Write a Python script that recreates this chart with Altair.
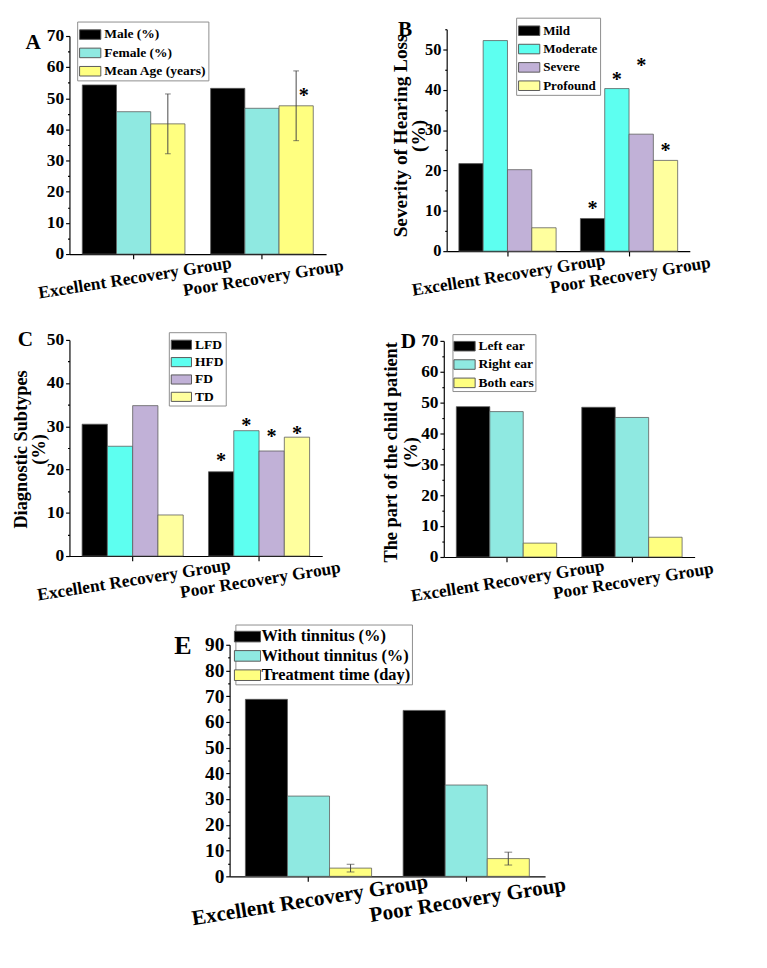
import altair as alt
import pandas as pd

FONT = "Liberation Serif"
GROUPS = ["Excellent Recovery Group", "Poor Recovery Group"]

# ---- Panel A: sex and age ----
a_series = ["Male (%)", "Female (%)", "Mean Age (years)"]
a_colors = ["#000000", "#8fe9e1", "#ffff80"]
a_excellent = [54.3, 45.7, 41.8]
a_poor = [53.2, 46.8, 47.6]
a_age_sd = [9.6, 11.2]
a_star_series = ["Mean Age (years)"]
a_star_y = [51.7]

# ---- Panel B: severity of hearing loss ----
b_series = ["Mild", "Moderate", "Severe", "Profound"]
b_colors = ["#000000", "#5dfff0", "#c1b1d7", "#ffff9e"]
b_excellent = [21.7, 52.2, 20.2, 5.8]
b_poor = [8.1, 40.3, 29.0, 22.5]
b_star_series = ["Mild", "Moderate", "Severe", "Profound"]
b_star_y = [11.1, 43.0, 46.6, 25.5]

# ---- Panel C: diagnostic subtypes ----
c_series = ["LFD", "HFD", "FD", "TD"]
c_colors = ["#000000", "#5dfff0", "#c1b1d7", "#ffff9e"]
c_excellent = [30.5, 25.4, 34.8, 9.5]
c_poor = [19.5, 29.0, 24.3, 27.5]
c_star_series = ["LFD", "HFD", "FD", "TD"]
c_star_y = [22.5, 30.7, 28.1, 28.8]

# ---- Panel D: affected ear ----
d_series = ["Left ear", "Right ear", "Both ears"]
d_colors = ["#000000", "#8fe9e1", "#ffff80"]
d_excellent = [48.7, 47.1, 4.5]
d_poor = [48.5, 45.2, 6.4]

# ---- Panel E: tinnitus and treatment time ----
e_series = ["With tinnitus (%)", "Without tinnitus (%)", "Treatment time (day)"]
e_colors = ["#000000", "#8fe9e1", "#ffff80"]
e_excellent = [68.8, 31.2, 3.2]
e_poor = [64.5, 35.5, 6.9]
e_time_sd = [1.5, 2.5]

INDEPENDENT = dict(x="independent", y="independent", xOffset="independent", color="independent")
SWATCH = "M-1,-0.45H1V0.45H-1Z"
WIDE_SWATCH = "M-1.23,-0.5H1.23V0.5H-1.23Z"


def bar_table(series, excellent, poor):
    rows = []
    for g, vals in zip(GROUPS, [excellent, poor]):
        for s, v in zip(series, vals):
            rows.append({"group": g, "series": s, "value": v})
    return pd.DataFrame(rows)


def panel(series, colors, excellent, poor, ymax, width, height, x_range, y_range,
          letter, letter_x, letter_y, letter_size,
          legend_x, legend_y, legend_fs, legend_row_pad, legend_pad, legend_sym,
          swatch=SWATCH, y_offset=0, tick_fs=18, xlab_fs=18, xlab_pad=11,
          ytitle=None, ytitle_x=0, ytitle_y=0, ytitle_fs=19, ytitle_lh=19,
          star_series=None, star_y=None, star_dx=0,
          err_series=None, err_mean=None, err_sd=None, cap=6):
    df = bar_table(series, excellent, poor)

    # the panel letter rides on the x axis as its title, placed top-left of the panel
    x_axis = alt.Axis(
        title=letter, titleX=letter_x, titleY=letter_y, titleAngle=0,
        titleAlign="left", titleBaseline="alphabetic", titleFontSize=letter_size,
        labelAngle=351, labelAlign="center", labelBaseline="top",
        labelPadding=xlab_pad, labelFontSize=xlab_fs, labelLimit=500,
        labelOverlap=False, tickSize=5, domainWidth=1.2, tickWidth=1.2,
    )
    x_scale = alt.Scale(domain=GROUPS, paddingInner=0.2, paddingOuter=0.1, range=x_range)
    off_scale = alt.Scale(domain=series, paddingInner=0, paddingOuter=0)

    y_axis_kw = dict(
        values=list(range(0, ymax + 1, 5)),
        labelExpr="datum.value % 10 === 0 ? datum.label : ''",
        tickSize={"condition": {"test": "datum.value % 10 === 0", "value": 4}, "value": 2},
        labelFontSize=tick_fs, labelPadding=2, labelOverlap=False,
        domainWidth=1.2, tickWidth=1.2, offset=y_offset,
    )
    if ytitle:
        y_axis_kw.update(
            title=ytitle, titleX=ytitle_x, titleY=ytitle_y, titleFontSize=ytitle_fs,
            titleLineHeight=ytitle_lh, titleAlign="center", titleBaseline="alphabetic",
            titleAngle=270,
        )
    else:
        y_axis_kw.update(title=None)
    y_axis = alt.Axis(**y_axis_kw)
    y_scale = alt.Scale(domain=[0, ymax], nice=False, zero=True, range=y_range)

    def xy(field):
        return dict(
            x=alt.X("group:N", scale=x_scale, axis=x_axis),
            xOffset=alt.XOffset("series:N", scale=off_scale),
            y=alt.Y(field, scale=y_scale, axis=y_axis),
        )

    legend = alt.Legend(
        orient="none", legendX=legend_x, legendY=legend_y, title=None,
        symbolType=swatch, symbolSize=legend_sym,
        symbolStrokeColor="#555555", symbolStrokeWidth=1, symbolOpacity=1,
        labelFont=FONT, labelFontWeight="bold", labelFontSize=legend_fs,
        labelColor="#000000", labelLimit=400, labelOffset=3,
        strokeColor="#8a8a8a", fillColor="#ffffff", padding=legend_pad,
        rowPadding=legend_row_pad,
    )

    bars = alt.Chart(df).mark_bar(stroke="#5a5a5a", strokeWidth=0.8).encode(
        color=alt.Color("series:N", scale=alt.Scale(domain=series, range=colors), legend=legend),
        **xy("value:Q"),
    )
    layers = [bars]

    if err_series is not None:
        edf = pd.DataFrame({
            "group": GROUPS,
            "series": [err_series, err_series],
            "lo": [m - s for m, s in zip(err_mean, err_sd)],
            "hi": [m + s for m, s in zip(err_mean, err_sd)],
        })
        base = alt.Chart(edf)
        layers.append(base.mark_rule(color="#444444", strokeWidth=1).encode(
            y2="hi:Q", **xy("lo:Q")))
        layers.append(base.mark_tick(color="#444444", thickness=1, size=cap).encode(**xy("lo:Q")))
        layers.append(base.mark_tick(color="#444444", thickness=1, size=cap).encode(**xy("hi:Q")))

    if star_series is not None:
        sdf = pd.DataFrame({
            "group": [GROUPS[1]] * len(star_series),
            "series": star_series,
            "star": star_y,
        })
        layers.append(alt.Chart(sdf).mark_text(
            text="*", font=FONT, fontSize=21, fontWeight="bold", color="#000000",
            baseline="middle", align="center", dx=star_dx, dy=3,
        ).encode(**xy("star:Q")))

    return alt.layer(*layers).properties(width=width, height=height)


def spacer(w, h):
    return alt.Chart(pd.DataFrame({"s": [0]})).mark_point(opacity=0).encode(
        x=alt.value(0), y=alt.value(0)
    ).properties(width=w, height=h)


# grid cells: column 0 starts at x=72, column 1 at x=463; rows start at y=27, 349, 662
chart_a = panel(a_series, a_colors, a_excellent, a_poor, 70, 266, 233, [0, 266], [233, 7],
                "A", -46, -213, 22, 8, -8, 14, 0, 2, 484,
                star_series=a_star_series, star_y=a_star_y, star_dx=8,
                err_series="Mean Age (years)", err_mean=[a_excellent[2], a_poor[2]],
                err_sd=a_age_sd, cap=6)

chart_b = panel(b_series, b_colors, b_excellent, b_poor, 55, 252, 230, [0, 252], [230, 0],
                "B", -51, -224, 22, 72, -12, 13.5, 0, 2, 484, tick_fs=17,
                ytitle=["Severity of Hearing Loss", "(%)"], ytitle_x=-42, ytitle_y=110,
                ytitle_fs=20, ytitle_lh=19,
                star_series=b_star_series, star_y=b_star_y)

chart_c = panel(c_series, c_colors, c_excellent, c_poor, 50, 262, 224, [0, 262], [224, 0],
                "C", -54, -218, 22, 103, -8, 14, 0, 2, 441,
                ytitle=["Diagnostic Subtypes", "(%)"], ytitle_x=-44, ytitle_y=113,
                ytitle_fs=19, ytitle_lh=18,
                star_series=c_star_series, star_y=c_star_y)

chart_d = panel(d_series, d_colors, d_excellent, d_poor, 70, 257, 225, [-3, 257], [225, 1],
                "D", -48, -217, 22, 6, -6, 14, 0, 1, 484, y_offset=3,
                ytitle=["The part of the child patient", "(%)"], ytitle_x=-49, ytitle_y=116,
                ytitle_fs=19, ytitle_lh=21)

chart_e = panel(e_series, e_colors, e_excellent, e_poor, 90, 102, 242, [-225, 102], [242, 2],
                "E", -283, -231, 27, -219, -19, 17, 0, 1, 484, swatch=WIDE_SWATCH,
                y_offset=225, tick_fs=20, xlab_fs=22, xlab_pad=9,
                err_series="Treatment time (day)", err_mean=[e_excellent[2], e_poor[2]],
                err_sd=e_time_sd, cap=8)

chart = alt.concat(
    chart_a, chart_b,
    chart_c, chart_d,
    spacer(41, 1), chart_e,
    columns=2, align="each", bounds="flush",
    spacing={"row": 89, "column": 125},
).resolve_scale(**INDEPENDENT).properties(
    padding={"left": 13, "top": 0, "right": 5, "bottom": 4},
    background="#ffffff",
).configure_view(stroke=None).configure_axis(
    labelFont=FONT, labelFontWeight="bold", labelColor="#000000",
    titleFont=FONT, titleFontWeight="bold", titleColor="#000000",
    domainColor="#000000", tickColor="#000000", grid=False,
)

chart.save("out.html", embed_options={"renderer": "svg", "actions": False})
